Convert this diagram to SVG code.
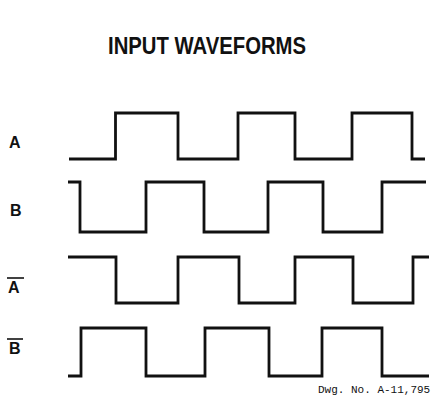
<svg xmlns="http://www.w3.org/2000/svg" width="432" height="406" viewBox="0 0 432 406">
<style>
.wave{fill:none;stroke:#111;stroke-width:2.8;stroke-linejoin:miter;stroke-linecap:butt}
.lbl{font-family:"Liberation Sans",Arial,sans-serif;font-weight:bold;font-size:16px;fill:#111}
.bar{stroke:#111;stroke-width:1.6}
.title{font-family:"Liberation Sans",Arial,sans-serif;font-weight:bold;font-size:23px;fill:#111}
.dwg{font-family:"Liberation Mono","Courier New",monospace;font-size:11px;fill:#111}
</style>
<rect width="432" height="406" fill="#fff"/>
<text class="title" x="108" y="54" textLength="198" lengthAdjust="spacingAndGlyphs">INPUT WAVEFORMS</text>
<g id="wave-A">
<text class="lbl" x="9" y="148">A</text>
<path class="wave" d="M69,159 H115.5 V113 H178 V159 H238 V113 H295 V159 H352 V113 H412 V159 H425"/>
</g>
<g id="wave-B">
<text class="lbl" x="10" y="216">B</text>
<path class="wave" d="M68,182 H80 V232 H146 V182 H204 V232 H268 V182 H323 V232 H382 V182 H426"/>
</g>
<g id="wave-A-bar">
<text class="lbl" x="8" y="293">A</text>
<line class="bar" x1="7" y1="278" x2="24" y2="278"/>
<path class="wave" d="M68,257 H116 V303 H178 V257 H239 V303 H295 V257 H353 V303 H413 V257 H429"/>
</g>
<g id="wave-B-bar">
<text class="lbl" x="9" y="354">B</text>
<line class="bar" x1="7" y1="339" x2="23" y2="339"/>
<path class="wave" d="M68,376 H81 V328 H146 V376 H205 V328 H269 V376 H322 V328 H382 V376 H429"/>
</g>
<g id="connectors"/>
<text class="dwg" x="318" y="393">Dwg. No. A-11,795</text>
</svg>
